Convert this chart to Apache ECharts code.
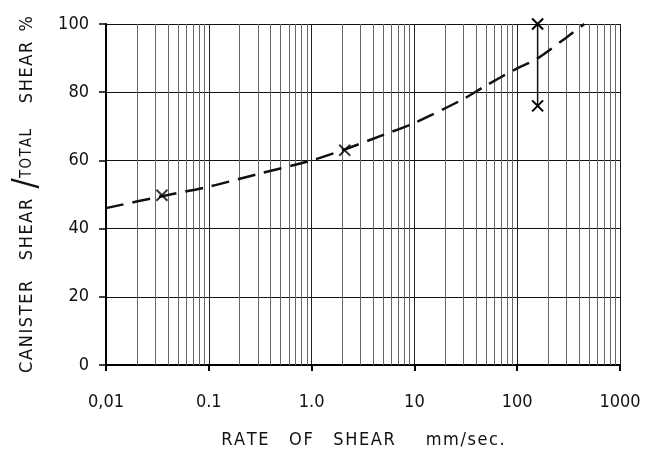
<!DOCTYPE html>
<html>
<head>
<meta charset="utf-8">
<script src="https://cdn.jsdelivr.net/npm/echarts@6/dist/echarts.min.js"></script>
<style>
  html, body { margin: 0; padding: 0; background: #fff; }
  #chart { width: 649px; height: 457px; }
</style>
</head>
<body>
<div id="chart"></div>
<script>
  // fitted curve (dashed)
  var curveX = [0.01, 0.035, 0.1, 0.3, 1, 2, 5, 10, 30, 50, 100, 150, 300, 450];
  var curveY = [46, 49.5, 52.3, 56, 60, 63, 67.5, 71, 78, 82, 87, 89.5, 96, 100];
  // measured points
  var pointX = [0.035, 2.1];
  var pointY = [49.8, 63];
  // range at the highest rate
  var rangeX = [158, 158];
  var rangeY = [100, 76];
  // axis labels
  var xTickLabels = {0.01: '0,01', 0.1: '0.1', 1: '1.0', 10: '10', 100: '100', 1000: '1000'};
  var decades = [0.01, 0.1, 1, 10, 100];
  var minorSteps = [2, 3, 4, 5, 6, 7, 8, 9];

  var minorLines = [];
  decades.forEach(function (d) {
    minorSteps.forEach(function (m) {
      minorLines.push({ xAxis: +(d * m).toPrecision(3) });
    });
  });

  // spread letters a little, like the lettering stencil
  function spaced(s) { return s.split('').join('\u200A'); }

  var cross = 'path://M0,0L10,10M10,0L0,10';
  var font = '"DejaVu Sans Condensed", "DejaVu Sans", sans-serif';

  var chart = echarts.init(document.getElementById('chart'));
  chart.setOption({
    animation: false,
    grid: { left: 106, right: 29, top: 24, bottom: 92, outerBoundsMode: 'none' },
    xAxis: {
      type: 'log',
      logBase: 10,
      min: 0.01,
      max: 1000,
      name: spaced('RATE') + '    ' + spaced('OF') + '    ' + spaced('SHEAR') + '      ' + spaced('mm/sec.'),
      nameLocation: 'middle',
      nameGap: 66,
      nameTextStyle: { fontFamily: font, fontSize: 18, color: '#111' },
      axisLine: { show: true, onZero: false, lineStyle: { color: '#000', width: 2 } },
      axisTick: { show: true, inside: false, length: 6, lineStyle: { color: '#000', width: 2 } },
      axisLabel: {
        fontFamily: font, fontSize: 18, color: '#111', margin: 28,
        formatter: function (v) { return xTickLabels[+v.toPrecision(3)] || ''; }
      },
      splitLine: { show: true, lineStyle: { color: '#222', width: 1 } },
      minorTick: { show: false },
      minorSplitLine: { show: false }
    },
    yAxis: {
      type: 'value',
      min: 0,
      max: 100,
      interval: 20,
      name: '{a|' + spaced('CANISTER') + '    ' + spaced('SHEAR') + '  }{s|/}{b|' + spaced('TOTAL') +
        '}{a|     ' + spaced('SHEAR') + '  %}',
      nameLocation: 'middle',
      nameRotate: 90,
      nameGap: 62,
      nameTextStyle: {
        rich: {
          a: { fontFamily: font, fontSize: 18, color: '#111' },
          b: { fontFamily: font, fontSize: 15, color: '#111' },
          s: { fontFamily: font, fontSize: 34, color: '#111' }
        }
      },
      axisLine: { show: true, lineStyle: { color: '#000', width: 2 } },
      axisTick: { show: true, inside: false, length: 7, lineStyle: { color: '#000', width: 1.5 } },
      axisLabel: { fontFamily: font, fontSize: 18, color: '#111', margin: 17 },
      splitLine: { show: true, lineStyle: { color: '#111', width: 1 } }
    },
    series: [
      {
        type: 'line',
        silent: true,
        data: [],
        markLine: {
          silent: true,
          symbol: ['none', 'none'],
          label: { show: false },
          lineStyle: { color: '#666', width: 1, type: 'solid' },
          data: minorLines
        }
      },
      {
        type: 'line',
        smooth: 0.3,
        showSymbol: false,
        data: curveX.map(function (x, i) { return [x, curveY[i]]; }),
        lineStyle: { color: '#111', width: 2.5, type: [18, 9] },
        z: 5
      },
      {
        type: 'line',
        data: rangeX.map(function (x, i) { return [x, rangeY[i]]; }),
        lineStyle: { color: '#111', width: 1.5 },
        symbol: cross,
        symbolSize: 11,
        itemStyle: { color: 'none', borderColor: '#000', borderWidth: 2 },
        z: 6
      },
      {
        type: 'scatter',
        data: pointX.map(function (x, i) { return [x, pointY[i]]; }),
        symbol: cross,
        symbolSize: 11,
        itemStyle: { color: 'none', borderColor: '#000', borderWidth: 2 },
        z: 6
      }
    ]
  });
</script>
</body>
</html>
